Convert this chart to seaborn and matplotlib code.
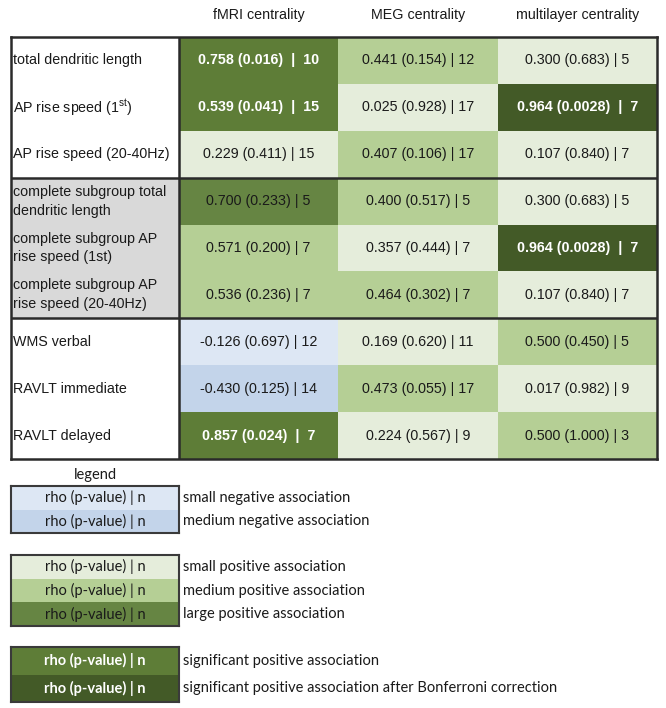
import numpy as np
import seaborn as sns
import matplotlib.pyplot as plt
from matplotlib.colors import ListedColormap
from matplotlib.patches import Rectangle

sns.set_style('white')
plt.rcParams['font.family'] = ['Liberation Sans', 'DejaVu Sans']
plt.rcParams['mathtext.fontset'] = 'custom'
plt.rcParams['mathtext.rm'] = 'Liberation Sans'

# column headers and row labels
measures = ['fMRI centrality', 'MEG centrality', 'multilayer centrality']
row_labels = ['total dendritic length',
              'AP rise speed (1$^{\\mathregular{st}}$)',
              'AP rise speed (20-40Hz)',
              'complete subgroup total\ndendritic length',
              'complete subgroup AP\nrise speed (1st)',
              'complete subgroup AP\nrise speed (20-40Hz)',
              'WMS verbal',
              'RAVLT immediate',
              'RAVLT delayed']

# spearman rho, p-value, n per cell
rho = [[0.758, 0.441, 0.300],
       [0.539, 0.025, 0.964],
       [0.229, 0.407, 0.107],
       [0.700, 0.400, 0.300],
       [0.571, 0.357, 0.964],
       [0.536, 0.464, 0.107],
       [-0.126, 0.169, 0.500],
       [-0.430, 0.473, 0.017],
       [0.857, 0.224, 0.500]]
pval = [[0.016, 0.154, 0.683],
        [0.041, 0.928, 0.0028],
        [0.411, 0.106, 0.840],
        [0.233, 0.517, 0.683],
        [0.200, 0.444, 0.0028],
        [0.236, 0.302, 0.840],
        [0.697, 0.620, 0.450],
        [0.125, 0.055, 0.982],
        [0.024, 0.567, 1.000]]
n_obs = [[10, 12, 5],
         [15, 17, 7],
         [15, 17, 7],
         [5, 5, 5],
         [7, 7, 7],
         [7, 7, 7],
         [12, 11, 5],
         [14, 17, 9],
         [7, 9, 3]]

# association category per cell (index into categories)
categories = ['small negative association', 'medium negative association',
              'small positive association', 'medium positive association',
              'large positive association', 'significant positive association',
              'significant positive association after Bonferroni correction']
cat_colors = ['#dde7f4', '#c3d4ea', '#e5eddb', '#b5cf95', '#668543', '#5e7d37', '#435a27']
cell_cat = [[5, 3, 2],
            [5, 2, 6],
            [2, 3, 2],
            [4, 3, 2],
            [3, 2, 6],
            [3, 3, 2],
            [0, 2, 3],
            [1, 3, 2],
            [5, 2, 3]]

legend_groups = [[0, 1], [2, 3, 4], [5, 6]]

cmap = ListedColormap(cat_colors)
W, H = 666, 708
line_col = '#2a2a2a'
fs = 10.3


def fmt_cell(r, p, n, bold):
    ps = f'{p:.4f}' if p < 0.01 else f'{p:.3f}'
    if bold:
        return f'{r:.3f} ({ps})  |  {n}'
    return f'{r:.3f} ({ps}) | {n}'


codes = np.array(cell_cat)
annot = np.array([[fmt_cell(rho[i][j], pval[i][j], n_obs[i][j], codes[i, j] >= 5)
                   for j in range(3)] for i in range(len(row_labels))])

fig = plt.figure(figsize=(W / 100, H / 100), dpi=100)

# ---- main table ----
ax = fig.add_axes([11 / W, 1 - 459 / H, 646 / W, 422 / H])
sns.heatmap(codes, annot=annot, fmt='', cmap=cmap, vmin=-0.5, vmax=len(cat_colors) - 0.5,
            cbar=False, ax=ax, linewidths=0, annot_kws={'fontsize': fs})
for t, c in zip(ax.texts, codes.flat):
    if c >= 5:
        t.set_color('white')
        t.set_fontweight('bold')
    else:
        t.set_color('#1a1a1a')

label_w = 168 / ((657 - 179) / 3)
ax.set_xlim(-label_w, 3)
ax.set_ylim(len(row_labels), 0)
ax.add_patch(Rectangle((-label_w, 3), label_w, 3, facecolor='#d9d9d9', edgecolor='none', zorder=0.5))
for i, lab in enumerate(row_labels):
    ax.text(-label_w + 0.015, i + 0.5, lab, ha='left', va='center', fontsize=fs,
            color='#1a1a1a', linespacing=1.45)

ax.xaxis.tick_top()
ax.set_xticks(np.arange(3) + 0.5)
ax.set_xticklabels(measures, fontsize=fs, color='#1a1a1a')
ax.tick_params(axis='x', length=0, pad=10.5)
ax.set_yticks([])
for s in ax.spines.values():
    s.set_visible(True)
    s.set_linewidth(1.8)
    s.set_color(line_col)
ax.axvline(0, color=line_col, lw=1.8)
ax.axhline(3, color=line_col, lw=1.8)
ax.axhline(6, color=line_col, lw=1.8)

# ---- legend ----
legend_rects = [(486, 533), (555, 626), (647, 702)]
for gi, (grp, (y0, y1)) in enumerate(zip(legend_groups, legend_rects)):
    lax = fig.add_axes([11 / W, 1 - y1 / H, 168 / W, (y1 - y0) / H])
    gcodes = np.array(grp).reshape(-1, 1)
    gannot = np.array([['rho (p-value) | n'] for _ in grp])
    sns.heatmap(gcodes, annot=gannot, fmt='', cmap=cmap, vmin=-0.5, vmax=len(cat_colors) - 0.5,
                cbar=False, ax=lax, linewidths=0,
                annot_kws={'fontsize': 10.5, 'family': 'Lato'})
    for t, c in zip(lax.texts, gcodes.flat):
        if c >= 5:
            t.set_color('white')
            t.set_fontweight('bold')
        else:
            t.set_color('#1a1a1a')
    for k, c in enumerate(grp):
        lax.text(1.024, k + 0.5, categories[c], ha='left', va='center', fontsize=10.5,
                 family='Lato', color='#1a1a1a', clip_on=False)
    lax.set_xticks([])
    lax.set_yticks([])
    for s in lax.spines.values():
        s.set_visible(True)
        s.set_linewidth(1.5)
        s.set_color('#3a3a3a')
    if gi == 0:
        lax.set_title('legend', fontsize=10.5, family='Lato', color='#1a1a1a', pad=5)

fig.savefig('out.png', dpi=100)
